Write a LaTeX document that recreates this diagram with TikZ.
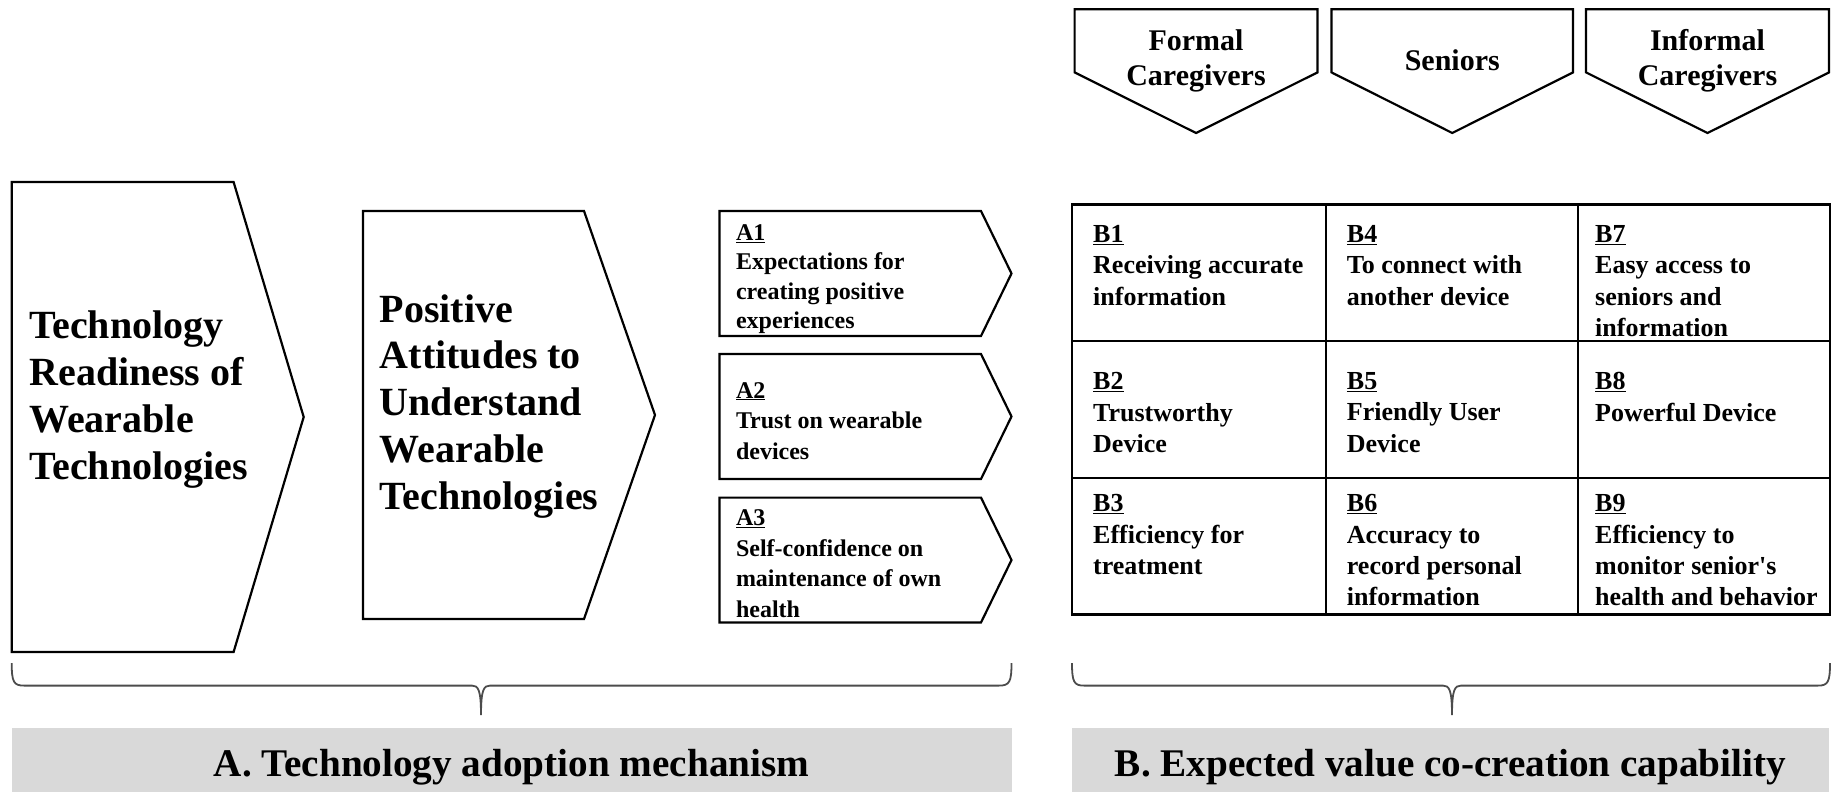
\documentclass[tikz,border=0pt]{standalone}
\usepackage{fontspec}
\setmainfont{Liberation Serif}[Ligatures=TeXOff]
\definecolor{bandgrey}{HTML}{D9D9D9}
\begin{document}
\begin{tikzpicture}[x=1pt,y=-1pt,
  outline/.style={draw=black,line width=2.2pt,line join=miter},
  bigtext/.style={font=\bfseries\fontsize{40}{46.7}\selectfont,align=left,inner sep=0pt,anchor=west},
  itemtext/.style={font=\bfseries\fontsize{24}{#1}\selectfont,align=left,inner sep=0pt,anchor=west},
  itemtext/.default=29.2,
  celltext/.style={font=\bfseries\fontsize{26}{31.2}\selectfont,align=left,inner sep=0pt,anchor=north west},
  headtext/.style={font=\bfseries\fontsize{30}{35}\selectfont,align=center,inner sep=0pt},
  captext/.style={font=\bfseries\fontsize{39.2}{45}\selectfont,inner sep=0pt},
  bracepath/.style={draw=black!70,line width=1.8pt},
  band/.style={fill=bandgrey,draw=none}]
\useasboundingbox (0,0) rectangle (1832,795);

% ---- Part A: readiness and attitude chevrons
\draw[outline] (11.7,182) -- (233.6,182) -- (303.7,417) -- (233.6,652) -- (11.7,652) -- cycle;
\node[bigtext] (ready) at (29.2,399.5) {Technology\\Readiness of\\Wearable\\Technologies};

\draw[outline] (363,211) -- (584,211) -- (655,415) -- (584,619) -- (363,619) -- cycle;
\node[bigtext] (attitude) at (379.6,406.2) {Positive\\Attitudes to\\Understand\\Wearable\\Technologies};

% ---- A1-A3 arrow boxes
\foreach \t/\b in {211/336, 354/479, 497.6/622.5}{
  \draw[outline] (719.5,\t) -- (981,\t) -- (1011.5,{(\t+\b)/2}) -- (981,\b) -- (719.5,\b) -- cycle;
}
\node[itemtext] (a1) at (735.8,279.2) {\underline{A1}\\Expectations for\\creating positive\\experiences};
\node[itemtext=30.5] (a2) at (735.8,420.8) {\underline{A2}\\Trust on wearable\\devices};
\node[itemtext=30.7] (a3) at (735.8,563.6) {\underline{A3}\\Self-confidence on\\maintenance of own\\health};

% ---- Part B: stakeholder headers
\foreach \l/\r in {1074.6/1317.5, 1331.5/1573, 1586/1829}{
  \draw[outline] (\l,9.3) -- (\r,9.3) -- (\r,72.4) -- ({(\l+\r)/2},133) -- (\l,72.4) -- cycle;
}
\node[headtext] (formal) at (1196,60.7) {Formal\\Caregivers};
\node[headtext] (seniors) at (1452.3,60.7) {Seniors};
\node[headtext] (informal) at (1707.5,60.7) {Informal\\Caregivers};

% ---- Part B: value grid
\draw[outline] (1072,204.4) rectangle (1830,614.4);
\draw[outline] (1325.7,204.4) -- (1325.7,614.4);
\draw[outline] (1578,204.4) -- (1578,614.4);
\draw[outline] (1072,341) -- (1830,341);
\draw[outline] (1072,477.7) -- (1830,477.7);

\node[celltext] (b1) at (1093,225.4) {\underline{B1}\\Receiving accurate\\information};
\node[celltext] (b2) at (1093,372.5) {\underline{B2}\\Trustworthy\\Device};
\node[celltext] (b3) at (1093,494.5) {\underline{B3}\\Efficiency for\\treatment};
\node[celltext] (b4) at (1346.7,225.4) {\underline{B4}\\To connect with\\another device};
\node[celltext] (b5) at (1346.7,372.5) {\underline{B5}\\Friendly User\\Device};
\node[celltext] (b6) at (1346.7,494.5) {\underline{B6}\\Accuracy to\\record personal\\information};
\node[celltext] (b7) at (1595,225.4) {\underline{B7}\\Easy access to\\seniors and\\information};
\node[celltext] (b8) at (1595,372.5) {\underline{B8}\\Powerful Device};
\node[celltext] (b9) at (1595,494.5) {\underline{B9}\\Efficiency to\\monitor senior's\\health and behavior};

% ---- grouping braces
\draw[bracepath] (11.7,663) .. controls (11.7,682) and (13.7,685.6) .. (24,685.6)
  -- (472,685.6) .. controls (478,685.6) and (481,689) .. (481,715)
  .. controls (481,689) and (484,685.6) .. (490,685.6)
  -- (999,685.6) .. controls (1009.5,685.6) and (1011.5,682) .. (1011.5,663);
\draw[bracepath] (1072,663) .. controls (1072,682) and (1074,685.6) .. (1084,685.6)
  -- (1443,685.6) .. controls (1449,685.6) and (1452,689) .. (1452,715)
  .. controls (1452,689) and (1455,685.6) .. (1461,685.6)
  -- (1818,685.6) .. controls (1828,685.6) and (1830,682) .. (1830,663);

% ---- captions
\fill[band] (11.7,727.7) rectangle (1011.5,792);
\fill[band] (1072,727.7) rectangle (1829,792);
\node[captext] (capA) at (511.6,766.8) {A. Technology adoption mechanism};
\node[captext] (capB) at (1450.5,766.8) {B. Expected value co-creation capability};
\end{tikzpicture}
\end{document}
